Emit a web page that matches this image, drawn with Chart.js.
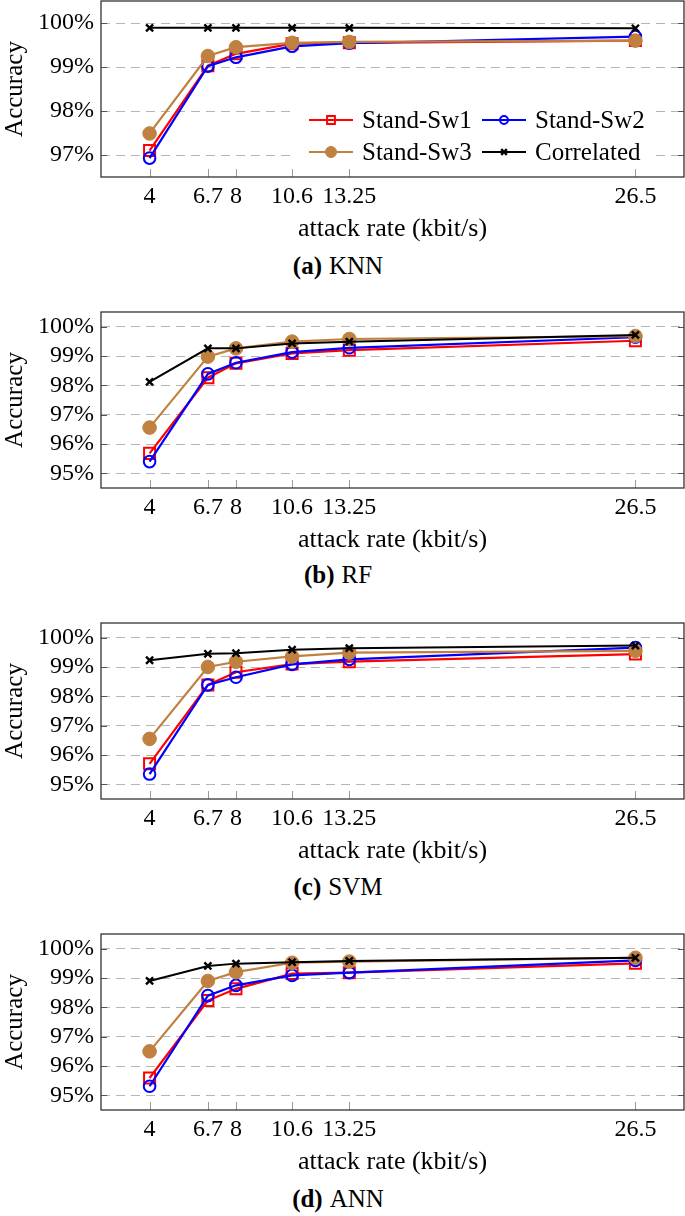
<!DOCTYPE html>
<html>
<head>
<meta charset="utf-8">
<script src="https://cdn.jsdelivr.net/npm/chart.js@4.4.0/dist/chart.umd.min.js"></script>
<style>
  body { margin: 0; background: #fff; width: 685px; height: 1216px; position: relative; overflow: hidden; }
  .panel { position: absolute; left: 0; width: 685px; height: 245px; }
  .caption {
    position: absolute; left: 0; width: 676px; height: 30px; line-height: 30px;
    text-align: center; font-family: "Liberation Serif", serif; font-size: 25px; color: #000;
  }
  .caption b { margin-right: 7px; }
</style>
</head>
<body>

<div class="panel" style="top:0px"><canvas id="chart_knn" width="685" height="245"></canvas></div>
<div class="caption" style="top:251px"><b>(a)</b>KNN</div>

<div class="panel" style="top:311px"><canvas id="chart_rf" width="685" height="245"></canvas></div>
<div class="caption" style="top:560px"><b>(b)</b>RF</div>

<div class="panel" style="top:622px"><canvas id="chart_svm" width="685" height="245"></canvas></div>
<div class="caption" style="top:872px"><b>(c)</b>SVM</div>

<div class="panel" style="top:933px"><canvas id="chart_ann" width="685" height="245"></canvas></div>
<div class="caption" style="top:1184px"><b>(d)</b>ANN</div>

<script>
// attack rates (kbit/s)
const xValues = [4, 6.7, 8, 10.6, 13.25, 26.5];
const xTickLabels = ["4", "6.7", "8", "10.6", "13.25", "26.5"];
const yTicksKnn = [97, 98, 99, 100];
const yTicksOther = [95, 96, 97, 98, 99, 100];
const seriesNames = ["Stand-Sw1", "Stand-Sw2", "Stand-Sw3", "Correlated"];

// accuracy (%) per classifier
const knnSw1 = [97.10, 99.03, 99.30, 99.53, 99.55, 99.60];
const knnSw2 = [96.93, 99.02, 99.22, 99.47, 99.54, 99.69];
const knnSw3 = [97.49, 99.25, 99.45, 99.55, 99.57, 99.60];
const knnCorr = [99.89, 99.89, 99.89, 99.89, 99.89, 99.88];

const rfSw1 = [95.68, 98.26, 98.75, 99.09, 99.20, 99.52];
const rfSw2 = [95.40, 98.39, 98.77, 99.13, 99.28, 99.64];
const rfSw3 = [96.56, 98.98, 99.26, 99.49, 99.58, 99.68];
const rfCorr = [98.12, 99.26, 99.26, 99.43, 99.49, 99.72];

const svmSw1 = [95.70, 98.39, 98.82, 99.10, 99.18, 99.44];
const svmSw2 = [95.35, 98.39, 98.65, 99.09, 99.26, 99.66];
const svmSw3 = [96.55, 99.00, 99.18, 99.36, 99.49, 99.55];
const svmCorr = [99.23, 99.45, 99.47, 99.59, 99.64, 99.73];

const annSw1 = [95.59, 98.23, 98.63, 99.15, 99.18, 99.50];
const annSw2 = [95.31, 98.40, 98.75, 99.09, 99.18, 99.60];
const annSw3 = [96.50, 98.90, 99.20, 99.52, 99.56, 99.69];
const annCorr = [98.90, 99.41, 99.49, 99.54, 99.58, 99.69];

const FONT = "Liberation Serif";
const RED = "#ff0000", BLUE = "#0000ff", BROWN = "#bf8040", BLACK = "#000000";

// pgfplots-like look for each series
const styles = [
    { color: RED,   pointStyle: "rect",     radius: 7.8, fill: "rgba(0,0,0,0)", bw: 2,   lw: 2.2, order: 4, legendR: 5.5 },
    { color: BLUE,  pointStyle: "circle",   radius: 5.8, fill: "rgba(0,0,0,0)", bw: 2,   lw: 2.2, order: 3, legendR: 4 },
    { color: BROWN, pointStyle: "circle",   radius: 6.8, fill: BROWN,           bw: 1,   lw: 2.2, order: 2, legendR: 5.5 },
    { color: BLACK, pointStyle: "crossRot", radius: 5,   fill: BLACK,           bw: 2.4, lw: 2,   order: 1, legendR: 4 }
];

function toPoints(values) {
    return values.map((v, i) => ({ x: xValues[i], y: v }));
}

// box around plot area + inner tick marks
const frame = {
    id: "frame",
    afterDraw(chart) {
        const { ctx, chartArea: a, scales } = chart;
        ctx.save();
        ctx.strokeStyle = "#555";
        ctx.lineWidth = 1;
        scales.y.ticks.forEach(t => {
            const y = Math.round(scales.y.getPixelForValue(t.value)) + 0.5;
            ctx.beginPath();
            ctx.moveTo(a.left, y); ctx.lineTo(a.left + 6, y);
            ctx.moveTo(a.right, y); ctx.lineTo(a.right - 6, y);
            ctx.stroke();
        });
        ctx.strokeStyle = "#999";
        scales.x.ticks.forEach(t => {
            const x = Math.round(scales.x.getPixelForValue(t.value)) + 0.5;
            ctx.beginPath();
            ctx.moveTo(x, a.bottom); ctx.lineTo(x, a.bottom - 8);
            ctx.stroke();
        });
        ctx.strokeStyle = "#333";
        ctx.lineWidth = 1.3;
        ctx.strokeRect(a.left, a.top, a.right - a.left, a.bottom - a.top);
        ctx.restore();
    }
};

// legend inside the plot, lower right, two columns
const innerLegend = {
    id: "innerLegend",
    afterDraw(chart, args, opts) {
        if (!opts.show) return;
        const { ctx, chartArea: a } = chart;
        const boxL = a.right - 388, boxR = a.right - 29;
        const boxT = a.bottom - 73, boxB = a.bottom - 9;
        ctx.save();
        ctx.fillStyle = "#fff";
        ctx.fillRect(boxL, boxT, boxR - boxL, boxB - boxT);
        const rows = [boxT + 16, boxT + 48];
        const cols = [boxL + 13, boxL + 186];
        chart.data.datasets.forEach((ds, i) => {
            const st = styles[i];
            const x0 = cols[i % 2], y = rows[Math.floor(i / 2)];
            ctx.strokeStyle = st.color;
            ctx.lineWidth = st.lw;
            ctx.beginPath();
            ctx.moveTo(x0, y); ctx.lineTo(x0 + 44, y);
            ctx.stroke();
            ctx.fillStyle = st.fill;
            ctx.lineWidth = st.bw;
            Chart.helpers.drawPoint(ctx, { pointStyle: st.pointStyle, radius: st.legendR, rotation: 0, borderWidth: st.bw }, x0 + 22, y);
            ctx.fillStyle = "#000";
            ctx.font = "25px '" + FONT + "'";
            ctx.textBaseline = "middle";
            ctx.fillText(ds.label, x0 + 53, y + 1);
        });
        ctx.restore();
    }
};

function makeChart(canvasId, series, yMin, yMax, yTicks, showLegend) {
    const canvas = document.getElementById(canvasId);
    return new Chart(canvas, {
        type: "line",
        data: {
            datasets: series.map((values, i) => ({
                label: seriesNames[i],
                data: toPoints(values),
                borderColor: styles[i].color,
                backgroundColor: styles[i].fill,
                borderWidth: styles[i].lw,
                pointStyle: styles[i].pointStyle,
                pointRadius: styles[i].radius,
                pointBorderWidth: styles[i].bw,
                pointBorderColor: styles[i].color,
                pointBackgroundColor: styles[i].fill,
                tension: 0,
                fill: false,
                clip: 10,
                order: styles[i].order
            }))
        },
        options: {
            responsive: false,
            animation: false,
            devicePixelRatio: 1,
            layout: { autoPadding: false, padding: { top: 1, right: 1, left: 0, bottom: 0 } },
            plugins: {
                legend: { display: false },
                tooltip: { enabled: false },
                innerLegend: { show: showLegend }
            },
            scales: {
                x: {
                    type: "linear",
                    min: 1.75,
                    max: 28.75,
                    afterBuildTicks: scale => { scale.ticks = xValues.map(v => ({ value: v })); },
                    afterFit: scale => {
                        scale.height = 68;
                        scale.paddingLeft = 0;
                        scale.paddingRight = 0;
                    },
                    grid: { display: false, drawTicks: false },
                    border: { display: false },
                    ticks: {
                        autoSkip: false,
                        maxRotation: 0,
                        padding: 5,
                        color: "#000",
                        font: { family: FONT, size: 24 },
                        callback: (v, idx) => xTickLabels[idx]
                    },
                    title: {
                        display: true,
                        text: "attack rate (kbit/s)",
                        color: "#000",
                        font: { family: FONT, size: 26 },
                        padding: { top: 3, bottom: 0 }
                    }
                },
                y: {
                    min: yMin,
                    max: yMax,
                    afterBuildTicks: scale => { scale.ticks = yTicks.map(v => ({ value: v })); },
                    afterFit: scale => {
                        scale.width = 101;
                        scale.paddingTop = 0;
                        scale.paddingBottom = 0;
                    },
                    grid: {
                        color: "#b5b5b5",
                        lineWidth: 1,
                        drawTicks: false
                    },
                    border: { display: false, dash: [9, 6] },
                    ticks: {
                        autoSkip: false,
                        padding: 7,
                        color: "#000",
                        font: { family: FONT, size: 24 },
                        callback: v => v + "%"
                    },
                    title: {
                        display: true,
                        text: "Accuracy",
                        color: "#000",
                        font: { family: FONT, size: 25 },
                        padding: { top: 0, bottom: 0 }
                    }
                }
            }
        },
        plugins: [frame, innerLegend]
    });
}

makeChart("chart_knn", [knnSw1, knnSw2, knnSw3, knnCorr], 96.5, 100.5, yTicksKnn, true);
makeChart("chart_rf", [rfSw1, rfSw2, rfSw3, rfCorr], 94.5, 100.5, yTicksOther, false);
makeChart("chart_svm", [svmSw1, svmSw2, svmSw3, svmCorr], 94.5, 100.5, yTicksOther, false);
makeChart("chart_ann", [annSw1, annSw2, annSw3, annCorr], 94.5, 100.5, yTicksOther, false);
</script>
</body>
</html>
